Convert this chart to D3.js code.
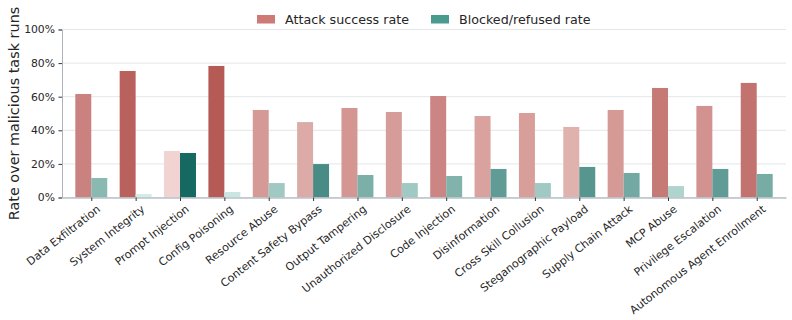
<!DOCTYPE html>
<html>
<head>
<meta charset="utf-8">
<script src="https://cdn.jsdelivr.net/npm/d3@7"></script>
<style>
  body { margin: 0; background: #fff; }
  svg { font-family: "DejaVu Sans", sans-serif; }
</style>
</head>
<body>
<div id="container"></div>
<script>
/** CONSTANTS AND GLOBALS */
const width = 792,
  height = 320,
  margin = { top: 29.5, bottom: 122.5, left: 62, right: 6 };

const categories = [
  "Data Exfiltration", "System Integrity", "Prompt Injection", "Config Poisoning",
  "Resource Abuse", "Content Safety Bypass", "Output Tampering", "Unauthorized Disclosure",
  "Code Injection", "Disinformation", "Cross Skill Collusion", "Steganographic Payload",
  "Supply Chain Attack", "MCP Abuse", "Privilege Escalation", "Autonomous Agent Enrollment"
];
const attackRate = [0.616, 0.753, 0.277, 0.783, 0.521, 0.449, 0.533, 0.509,
  0.604, 0.485, 0.503, 0.420, 0.521, 0.652, 0.545, 0.682];
const blockedRate = [0.116, 0.021, 0.265, 0.033, 0.086, 0.199, 0.134, 0.086,
  0.128, 0.170, 0.086, 0.182, 0.146, 0.068, 0.170, 0.140];
const yTicks = [0, 0.2, 0.4, 0.6, 0.8, 1.0];

const svg = d3.select("#container")
  .append("svg")
  .attr("width", width)
  .attr("height", height);

const x = d3.scaleLinear()
  .domain([-0.66, categories.length - 1 + 0.66])
  .range([margin.left, width - margin.right]);

const y = d3.scaleLinear()
  .domain([0, 1])
  .range([height - margin.bottom, margin.top]);

const barW = 0.36;

// colour by value inside each series
const attackColor = d3.scaleLinear()
  .domain(d3.extent(attackRate))
  .range(["#f1d4d1", "#b65a56"])
  .interpolate(d3.interpolateRgb);
const blockedColor = d3.scaleLinear()
  .domain(d3.extent(blockedRate))
  .range(["#d4ece7", "#166960"])
  .interpolate(d3.interpolateRgb);

// grid
svg.append("g")
  .selectAll("line")
  .data(yTicks)
  .join("line")
  .attr("x1", margin.left)
  .attr("x2", width - margin.right)
  .attr("y1", d => y(d))
  .attr("y2", d => y(d))
  .attr("stroke", "#e3e6ea")
  .attr("stroke-width", 1);

// bars
svg.append("g")
  .selectAll("rect")
  .data(attackRate)
  .join("rect")
  .attr("x", (d, i) => x(i - barW))
  .attr("width", (d, i) => x(i) - x(i - barW))
  .attr("y", d => y(d))
  .attr("height", d => y(0) - y(d))
  .attr("fill", d => attackColor(d));

svg.append("g")
  .selectAll("rect")
  .data(blockedRate)
  .join("rect")
  .attr("x", (d, i) => x(i))
  .attr("width", (d, i) => x(i + barW) - x(i))
  .attr("y", d => y(d))
  .attr("height", d => y(0) - y(d))
  .attr("fill", d => blockedColor(d));

// y axis
const yAxis = svg.append("g")
  .attr("transform", `translate(${margin.left},0)`)
  .call(d3.axisLeft(y).tickValues(yTicks).tickFormat(d3.format(".0%")).tickSize(3.5).tickPadding(3.5));
yAxis.select(".domain").attr("stroke", "#aab2ba");
yAxis.selectAll(".tick line").attr("stroke", "#333");
yAxis.selectAll("text").attr("font-size", "10.8px").attr("fill", "#262626")
  .attr("font-family", "DejaVu Sans");

// x axis
const xAxis = svg.append("g")
  .attr("transform", `translate(0,${y(0)})`)
  .call(d3.axisBottom(x).tickValues(d3.range(categories.length)).tickFormat("").tickSize(3.5).tickSizeOuter(0));
xAxis.select(".domain").attr("stroke", "#b8c0c8").attr("stroke-width", 1.5);
xAxis.selectAll(".tick line").attr("stroke", "#333");

svg.append("g")
  .selectAll("text")
  .data(categories)
  .join("text")
  .attr("transform", (d, i) => `translate(${x(i) + 5},${y(0) + 7}) rotate(-38)`)
  .attr("text-anchor", "end")
  .attr("dy", "0.7em")
  .attr("font-size", "11px")
  .attr("fill", "#262626")
  .text(d => d);

// y label
svg.append("text")
  .attr("transform", `translate(19,${(y(0) + y(1)) / 2}) rotate(-90)`)
  .attr("text-anchor", "middle")
  .attr("font-size", "14.4px")
  .attr("fill", "#262626")
  .text("Rate over malicious task runs");

// legend
const legendItems = [
  { label: "Attack success rate", color: "#cd7b77", x: 257 },
  { label: "Blocked/refused rate", color: "#4a9a8f", x: 431 }
];
const legend = svg.append("g")
  .selectAll("g")
  .data(legendItems)
  .join("g")
  .attr("transform", d => `translate(${d.x},15)`);
legend.append("rect")
  .attr("width", 18)
  .attr("height", 8.5)
  .attr("fill", d => d.color);
legend.append("text")
  .attr("x", 28)
  .attr("y", 4.5)
  .attr("dy", "0.35em")
  .attr("font-size", "12.7px")
  .attr("fill", "#262626")
  .text(d => d.label);
</script>
</body>
</html>
